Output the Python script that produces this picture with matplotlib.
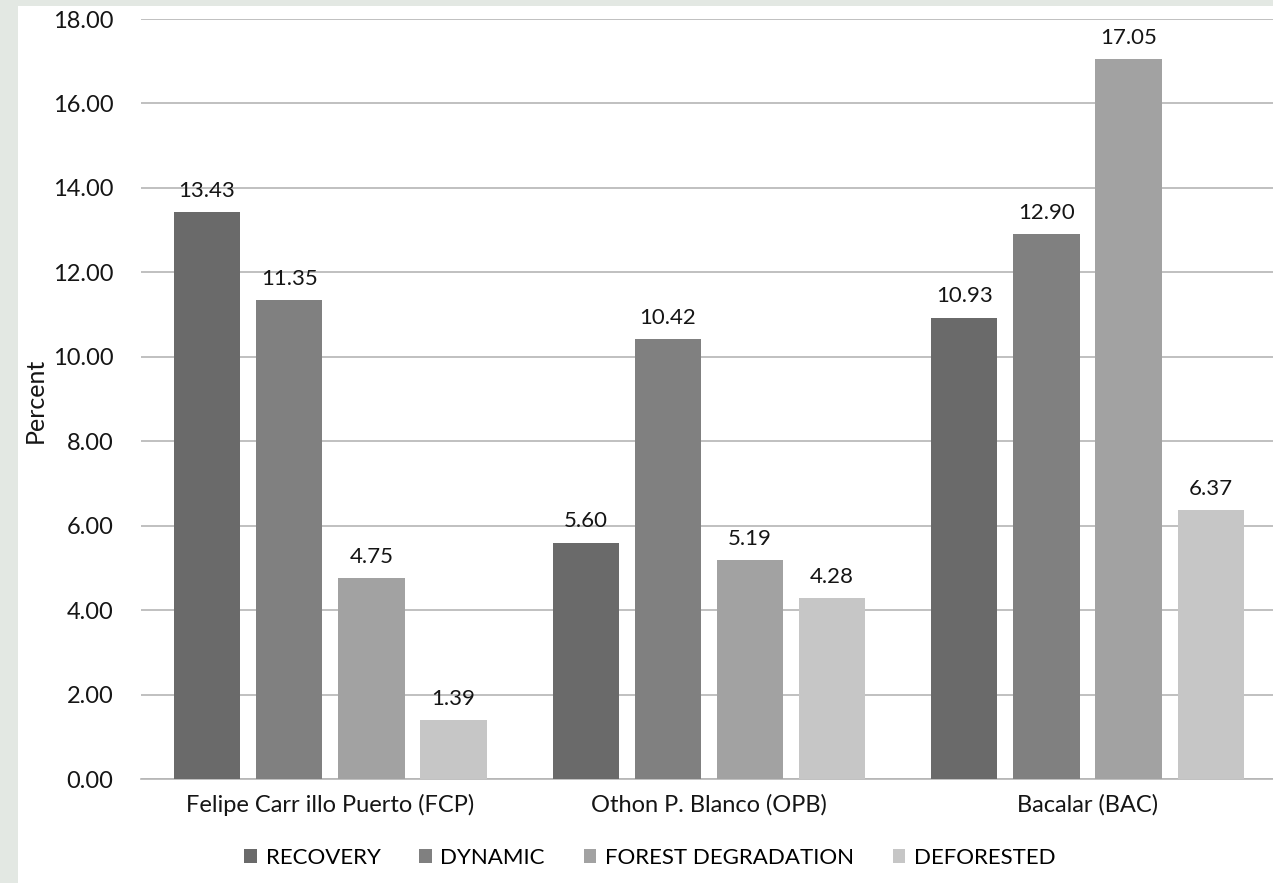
import numpy as np
import matplotlib
matplotlib.use('Agg')
import matplotlib.pyplot as plt
from matplotlib.patches import Rectangle

# Data
regions = ['Felipe Carr illo Puerto (FCP)', 'Othon P. Blanco (OPB)', 'Bacalar (BAC)']
series = ['RECOVERY', 'DYNAMIC', 'FOREST DEGRADATION', 'DEFORESTED']
recovery = [13.43, 5.60, 10.93]
dynamic = [11.35, 10.42, 12.90]
forest_degradation = [4.75, 5.19, 17.05]
deforested = [1.39, 4.28, 6.37]
yticks = [0, 2, 4, 6, 8, 10, 12, 14, 16, 18]

colors = ['#6a6a6a', '#808080', '#a2a2a2', '#c6c6c6']
values = [recovery, dynamic, forest_degradation, deforested]
txt = '#151515'

plt.rcParams['font.family'] = ['Lato', 'DejaVu Sans']

fig = plt.figure(figsize=(12.73, 8.83), dpi=100, facecolor='#e3e8e3')
# white panel inside the light frame
fig.add_artist(Rectangle((18 / 1273, 0), 1, 1 - 6 / 883, transform=fig.transFigure,
                         facecolor='white', edgecolor='none', zorder=-10))

ax = fig.add_axes([141 / 1273, 1 - 779 / 883, 1 - 141 / 1273, (779 - 19) / 883])
ax.set_facecolor('none')

x = np.arange(len(regions))
pitch = 0.217
width = 0.175
for i, (name, vals, c) in enumerate(zip(series, values, colors)):
    pos = x + (i - 1.5) * pitch
    bars = ax.bar(pos, vals, width=width, color=c, label=name, zorder=3)
    for b, v in zip(bars, vals):
        ax.annotate(f'{v:.2f}', (b.get_x() + b.get_width() / 2, v),
                    xytext=(0, 8), textcoords='offset points',
                    ha='center', va='bottom', fontsize=16, color=txt)

ax.set_ylim(0, 18)
ax.set_xlim(-0.5, 2.49)
ax.set_yticks(yticks)
ax.set_yticklabels([f'{t:.2f}' for t in yticks], fontsize=17, color=txt)
ax.set_xticks(x)
ax.set_xticklabels(regions, fontsize=17, color=txt)
ax.tick_params(axis='y', length=0, pad=20)
ax.tick_params(axis='x', length=0, pad=11)
ax.grid(axis='y', color='#b5b5b5', linewidth=1.2, zorder=0)
for s in ['top', 'right', 'left']:
    ax.spines[s].set_visible(False)
ax.spines['bottom'].set_color('#b5b5b5')
ax.spines['bottom'].set_linewidth(1.2)

fig.text(35 / 1273, 1 - 400 / 883, 'Percent', rotation=90, ha='center', va='center',
         fontsize=18, color=txt)

handles, labels = ax.get_legend_handles_labels()
fig.legend(handles, labels, loc='center', bbox_to_anchor=(650 / 1273, 1 - 858 / 883),
           ncol=4, frameon=False, fontsize=16, handlelength=0.55, handleheight=0.55,
           handletextpad=0.4, columnspacing=1.75)

fig.savefig('out.png', dpi=100, facecolor=fig.get_facecolor())
